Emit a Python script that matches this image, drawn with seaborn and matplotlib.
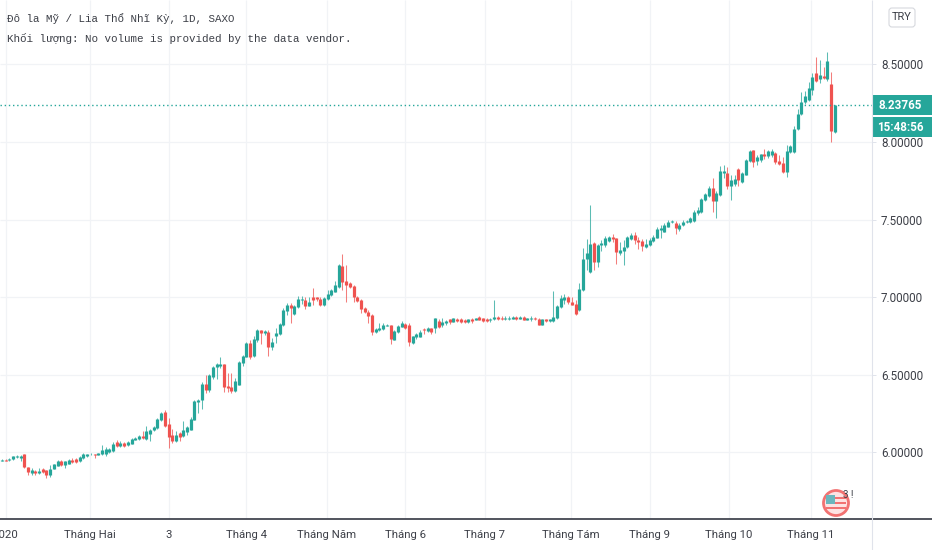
# USD/TRY daily candles, 2020
import pandas as pd
import matplotlib
matplotlib.use("Agg")
import matplotlib.pyplot as plt
import seaborn as sns
from matplotlib.patches import Circle, FancyBboxPatch, Rectangle

# candle values
opens = [
    5.944, 5.951, 5.948, 5.953, 5.966, 5.963, 5.987, 5.903, 5.867, 5.88,
    5.865, 5.892, 5.882, 5.852, 5.892, 5.912, 5.944, 5.918, 5.925, 5.951,
    5.955, 5.94, 5.959, 5.972, 5.985, 5.985, 5.981, 5.985, 5.989, 6.002,
    6.006, 6.065, 6.037, 6.058, 6.043, 6.054, 6.08, 6.082, 6.103, 6.086,
    6.118, 6.14, 6.155, 6.204, 6.258, 6.178, 6.112, 6.069, 6.125, 6.103,
    6.129, 6.144, 6.209, 6.32, 6.333, 6.44, 6.40, 6.482, 6.546, 6.555,
    6.568, 6.426, 6.417, 6.396, 6.435, 6.576, 6.615, 6.705, 6.62, 6.72,
    6.787, 6.765, 6.772, 6.675, 6.748, 6.761, 6.817, 6.908, 6.948, 6.89,
    6.938, 6.98, 6.98, 6.942, 7.002, 6.998, 6.987, 6.946, 6.987, 7.011,
    7.034, 7.067, 7.2, 7.105, 7.088, 7.071, 7.002, 6.98, 6.927, 6.901,
    6.884, 6.774, 6.787, 6.796, 6.813, 6.817, 6.723, 6.776, 6.809, 6.824,
    6.82, 6.705, 6.744, 6.744, 6.796, 6.778, 6.798, 6.80, 6.847, 6.819,
    6.83, 6.856, 6.841, 6.86, 6.858, 6.852, 6.841, 6.86, 6.852, 6.871,
    6.862, 6.86, 6.852, 6.856, 6.873, 6.867, 6.858, 6.858, 6.86, 6.873,
    6.86, 6.869, 6.852, 6.86, 6.865, 6.86, 6.822, 6.856, 6.845, 6.845,
    6.865, 6.938, 6.98, 6.998, 6.97, 6.955, 6.916, 7.045, 7.243, 7.163,
    7.346, 7.228, 7.335, 7.335, 7.363, 7.385, 7.378, 7.282, 7.297, 7.32,
    7.372, 7.40, 7.368, 7.363, 7.32, 7.335, 7.363, 7.383, 7.432, 7.421,
    7.454, 7.482, 7.479, 7.438, 7.464, 7.482, 7.486, 7.492, 7.54, 7.546,
    7.626, 7.654, 7.704, 7.618, 7.659, 7.80, 7.80, 7.713, 7.73, 7.827,
    7.741, 7.79, 7.877, 7.946, 7.877, 7.881, 7.924, 7.907, 7.914, 7.929,
    7.877, 7.864, 7.806, 7.935, 7.935, 8.086, 8.179, 8.259, 8.274, 8.335,
    8.447, 8.404, 8.426, 8.404, 8.372, 8.065,
]
highs = [
    5.955, 5.955, 5.96, 5.975, 5.98, 5.98, 5.99, 5.905, 5.90, 5.885,
    5.90, 5.90, 5.885, 5.915, 5.925, 5.95, 5.95, 5.945, 5.955, 5.96,
    5.96, 5.975, 5.995, 5.99, 5.992, 5.99, 5.995, 6.047, 6.03, 6.025,
    6.067, 6.075, 6.07, 6.065, 6.07, 6.09, 6.095, 6.11, 6.135, 6.166,
    6.15, 6.17, 6.22, 6.26, 6.27, 6.22, 6.15, 6.135, 6.13, 6.2,
    6.17, 6.225, 6.335, 6.345, 6.45, 6.50, 6.505, 6.555, 6.575, 6.61,
    6.57, 6.51, 6.51, 6.475, 6.59, 6.625, 6.71, 6.72, 6.75, 6.795,
    6.79, 6.79, 6.79, 6.733, 6.798, 6.83, 6.927, 6.963, 6.963, 6.95,
    7.006, 7.009, 6.998, 6.998, 7.056, 6.998, 7.0, 6.998, 7.045, 7.052,
    7.105, 7.213, 7.277, 7.206, 7.099, 7.075, 7.005, 6.985, 6.933, 6.916,
    6.89, 6.802, 6.83, 6.834, 6.825, 6.82, 6.79, 6.82, 6.845, 6.83,
    6.83, 6.75, 6.765, 6.787, 6.80, 6.804, 6.80, 6.862, 6.856, 6.862,
    6.85, 6.86, 6.865, 6.865, 6.865, 6.855, 6.86, 6.865, 6.865, 6.875,
    6.865, 6.865, 6.865, 6.98, 6.88, 6.875, 6.875, 6.875, 6.875, 6.88,
    6.875, 6.875, 6.865, 6.877, 6.87, 6.865, 6.86, 6.86, 6.86, 7.039,
    6.948, 7.013, 7.02, 7.006, 6.998, 6.98, 7.088, 7.314, 7.372, 7.593,
    7.357, 7.34, 7.368, 7.393, 7.393, 7.404, 7.38, 7.357, 7.368, 7.393,
    7.41, 7.417, 7.385, 7.376, 7.374, 7.383, 7.40, 7.454, 7.464, 7.475,
    7.497, 7.499, 7.492, 7.475, 7.497, 7.499, 7.514, 7.562, 7.579, 7.639,
    7.672, 7.717, 7.767, 7.687, 7.842, 7.853, 7.838, 7.784, 7.784, 7.83,
    7.806, 7.892, 7.946, 7.95, 7.914, 7.924, 7.957, 7.95, 7.957, 7.935,
    7.914, 7.903, 7.983, 7.978, 8.10, 8.21, 8.324, 8.33, 8.384, 8.447,
    8.551, 8.529, 8.482, 8.583, 8.449, 8.2377,
]
lows = [
    5.94, 5.94, 5.945, 5.95, 5.96, 5.945, 5.90, 5.85, 5.855, 5.85,
    5.86, 5.865, 5.83, 5.84, 5.89, 5.91, 5.91, 5.90, 5.92, 5.93,
    5.93, 5.935, 5.955, 5.97, 5.98, 5.96, 5.98, 5.98, 5.972, 5.995,
    6.0, 6.03, 6.03, 6.03, 6.04, 6.05, 6.075, 6.075, 6.085, 6.08,
    6.071, 6.135, 6.15, 6.2, 6.16, 6.026, 6.06, 6.065, 6.069, 6.095,
    6.107, 6.14, 6.205, 6.252, 6.278, 6.38, 6.39, 6.47, 6.47, 6.54,
    6.39, 6.385, 6.38, 6.39, 6.43, 6.555, 6.61, 6.60, 6.615, 6.71,
    6.697, 6.755, 6.62, 6.658, 6.705, 6.755, 6.81, 6.884, 6.83, 6.882,
    6.93, 6.955, 6.92, 6.94, 6.948, 6.974, 6.942, 6.942, 6.98, 7.006,
    7.03, 7.06, 7.045, 6.97, 7.056, 6.97, 6.966, 6.899, 6.895, 6.83,
    6.755, 6.766, 6.78, 6.787, 6.81, 6.697, 6.72, 6.77, 6.805, 6.795,
    6.684, 6.697, 6.727, 6.74, 6.76, 6.775, 6.76, 6.77, 6.798, 6.809,
    6.82, 6.826, 6.84, 6.84, 6.835, 6.83, 6.835, 6.83, 6.85, 6.85,
    6.84, 6.84, 6.84, 6.85, 6.85, 6.85, 6.85, 6.85, 6.855, 6.85,
    6.855, 6.85, 6.85, 6.847, 6.85, 6.817, 6.82, 6.84, 6.837, 6.84,
    6.86, 6.93, 6.955, 6.955, 6.946, 6.886, 6.91, 7.039, 7.174, 7.157,
    7.174, 7.196, 7.297, 7.325, 7.357, 7.357, 7.213, 7.27, 7.206, 7.314,
    7.368, 7.34, 7.307, 7.30, 7.314, 7.329, 7.357, 7.378, 7.378, 7.417,
    7.45, 7.475, 7.406, 7.428, 7.458, 7.475, 7.477, 7.482, 7.531, 7.54,
    7.618, 7.648, 7.551, 7.508, 7.65, 7.769, 7.695, 7.626, 7.719, 7.719,
    7.734, 7.784, 7.868, 7.838, 7.853, 7.87, 7.892, 7.898, 7.903, 7.855,
    7.849, 7.80, 7.773, 7.929, 7.93, 8.08, 8.173, 8.248, 8.266, 8.30,
    8.389, 8.382, 8.404, 8.395, 8.0, 8.058,
]
closes = [
    5.951, 5.944, 5.957, 5.972, 5.976, 5.976, 5.903, 5.871, 5.882, 5.865,
    5.88, 5.871, 5.85, 5.89, 5.92, 5.944, 5.914, 5.94, 5.948, 5.938,
    5.935, 5.968, 5.985, 5.985, 5.989, 5.978, 5.991, 6.015, 6.02, 6.017,
    6.049, 6.037, 6.06, 6.037, 6.065, 6.084, 6.09, 6.105, 6.088, 6.135,
    6.144, 6.161, 6.215, 6.254, 6.166, 6.097, 6.069, 6.112, 6.097, 6.144,
    6.161, 6.215, 6.327, 6.338, 6.436, 6.40, 6.497, 6.55, 6.568, 6.568,
    6.42, 6.415, 6.396, 6.458, 6.58, 6.62, 6.705, 6.615, 6.73, 6.79,
    6.77, 6.783, 6.675, 6.712, 6.766, 6.826, 6.916, 6.948, 6.927, 6.942,
    6.985, 6.987, 6.942, 6.97, 6.98, 6.985, 6.948, 6.996, 7.017, 7.045,
    7.077, 7.206, 7.10, 7.08, 7.067, 6.998, 6.976, 6.92, 6.901, 6.877,
    6.774, 6.796, 6.80, 6.822, 6.822, 6.727, 6.783, 6.815, 6.83, 6.798,
    6.712, 6.748, 6.76, 6.774, 6.787, 6.80, 6.776, 6.862, 6.809, 6.841,
    6.847, 6.837, 6.862, 6.847, 6.837, 6.837, 6.856, 6.847, 6.862, 6.852,
    6.847, 6.847, 6.86, 6.871, 6.856, 6.856, 6.865, 6.867, 6.871, 6.856,
    6.871, 6.852, 6.862, 6.867, 6.856, 6.822, 6.856, 6.845, 6.856, 6.871,
    6.942, 6.994, 7.002, 6.968, 6.95, 6.89, 7.05, 7.245, 7.282, 7.342,
    7.228, 7.335, 7.346, 7.378, 7.385, 7.372, 7.288, 7.303, 7.32, 7.385,
    7.40, 7.368, 7.357, 7.329, 7.342, 7.368, 7.385, 7.439, 7.443, 7.464,
    7.486, 7.492, 7.445, 7.466, 7.486, 7.492, 7.508, 7.55, 7.562, 7.633,
    7.665, 7.704, 7.618, 7.67, 7.81, 7.816, 7.713, 7.756, 7.762, 7.752,
    7.80, 7.886, 7.942, 7.87, 7.903, 7.92, 7.907, 7.94, 7.94, 7.87,
    7.855, 7.806, 7.94, 7.972, 8.086, 8.179, 8.259, 8.296, 8.346, 8.421,
    8.395, 8.432, 8.415, 8.525, 8.069, 8.23765,
]
assert len(opens) == len(highs) == len(lows) == len(closes)

price_ticks = [6.0, 6.5, 7.0, 7.5, 8.0, 8.5]
month_pos = [1, 23.8, 45, 66, 87.8, 109, 130.5, 153.8, 175, 196.5, 218.6]
month_labels = ["2020", "Tháng Hai", "3", "Tháng 4", "Tháng Năm", "Tháng 6",
                "Tháng 7", "Tháng Tám", "Tháng 9", "Tháng 10", "Tháng 11"]

UP = "#26a69a"
DOWN = "#ef5350"
TEXT = "#3c3f47"
MONO = ["Liberation Mono", "DejaVu Sans Mono", "Noto Sans"]

sns.set_theme(style="white", rc={"lines.solid_capstyle": "butt"})
plt.rcParams["font.family"] = ["Roboto", "DejaVu Sans"]

df = pd.DataFrame({"bar": range(len(opens)), "open": opens, "high": highs, "low": lows, "close": closes})
df["dir"] = ["up" if c >= o else "down" for o, c in zip(df["open"], df["close"])]

# two rows per candle, one line each
wicks = df.melt(id_vars=["bar", "dir"], value_vars=["low", "high"], value_name="price")
bodies = df.melt(id_vars=["bar", "dir"], value_vars=["open", "close"], value_name="price")

fig = plt.figure(figsize=(9.32, 5.5), dpi=100)
ax = fig.add_axes([0, 31 / 550, 872 / 932, 519 / 550])

palette = {"up": UP, "down": DOWN}
sns.lineplot(data=wicks, x="bar", y="price", hue="dir", units="bar", estimator=None,
             palette=palette, linewidth=0.75, alpha=0.75, legend=False, ax=ax)
sns.lineplot(data=bodies, x="bar", y="price", hue="dir", units="bar", estimator=None,
             palette=palette, linewidth=2.3, legend=False, ax=ax)

ax.set_xlim(-0.54, 235.1)
ax.set_ylim(5.568, 8.916)
ax.set_xlabel("")
ax.set_ylabel("")
ax.set_xticks(month_pos, month_labels)
ax.set_yticks(price_ticks, [f"{p:.5f}" for p in price_ticks])
ax.yaxis.tick_right()
ax.grid(True, color="#f1f3f6", linewidth=0.9)
ax.set_axisbelow(True)
ax.tick_params(axis="x", length=2, width=0.7, color="#434651", pad=6, labelsize=8.2, labelcolor=TEXT)
ax.tick_params(axis="y", length=3, width=0.7, color="#e0e3eb", pad=3.5, labelsize=8.4, labelcolor=TEXT, right=True)
sns.despine(ax=ax, top=True, left=True, right=True, bottom=True)

# last price line
ax.axhline(closes[-1], color=UP, linewidth=1, linestyle=(0, (1, 2)))

# pixel overlay for the labels around the chart
over = fig.add_axes([0, 0, 1, 1], facecolor="none")
over.set_xlim(0, 932)
over.set_ylim(550, 0)
over.axis("off")
over.plot([0, 932], [519, 519], color="#434651", linewidth=1.3)
over.plot([872, 872], [0, 550], color="#e0e3eb", linewidth=0.8)

over.text(7, 19, "Đô la Mỹ / Lia Thổ Nhĩ Kỳ, 1D, SAXO", family=MONO,
          fontsize=7.85, color=TEXT, va="center")
over.text(7, 39, "Khối lượng: No volume is provided by the data vendor.", family=MONO,
          fontsize=7.85, color=TEXT, va="center")

over.add_patch(FancyBboxPatch((889, 8), 26, 19, boxstyle="round,pad=0,rounding_size=3",
                              facecolor="white", edgecolor="#d6d8de", linewidth=0.8))
over.text(902, 17.5, "TRY", fontsize=8, color=TEXT, ha="center", va="center")

over.add_patch(Rectangle((872, 95), 60, 20, color=UP, linewidth=0))
over.text(900, 105.5, f"{closes[-1]:.5f}", fontsize=8.4, color="white", weight="bold", ha="center", va="center")
over.add_patch(Rectangle((873, 117), 59, 20, color=UP, linewidth=0))
over.text(900, 127.5, "15:48:56", fontsize=8.4, color="white", weight="bold", ha="center", va="center")

# small flag badge
over.add_patch(Circle((836, 503), 12.5, facecolor="#fde3e3", edgecolor="#f27272", linewidth=2))
for y in [497, 502, 507]:
    over.add_patch(Rectangle((826, y), 20, 2.2, color="#f27272", linewidth=0))
over.add_patch(Rectangle((826, 495), 9, 9, color="#6cb6bd", linewidth=0))
over.text(848, 495, "3 !", fontsize=7, color=TEXT, ha="center", va="center")

plt.savefig("out.png", dpi=100)
